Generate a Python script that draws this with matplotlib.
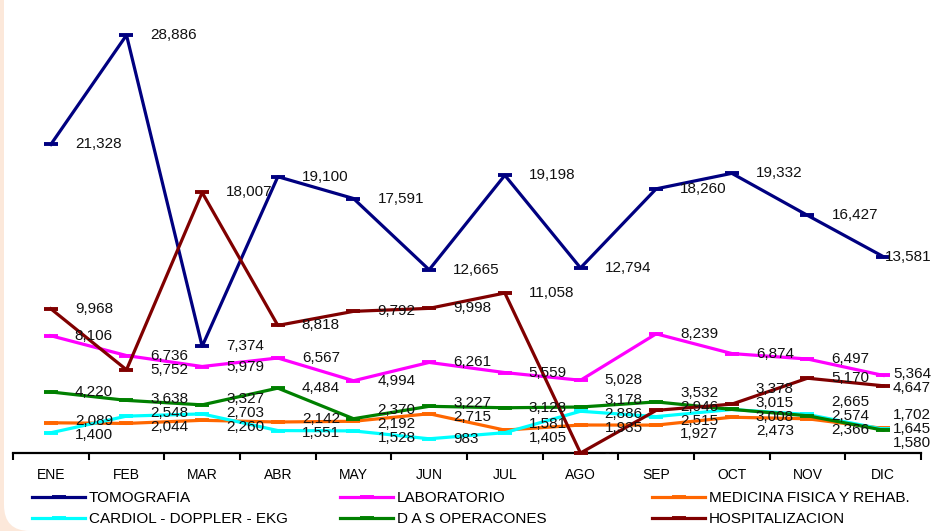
import matplotlib
matplotlib.use('Agg')
import matplotlib.pyplot as plt
import numpy as np
from matplotlib.patches import FancyBboxPatch
from matplotlib.transforms import IdentityTransform

plt.rcParams['font.family'] = ['Liberation Sans', 'DejaVu Sans']

# data
months = ['ENE', 'FEB', 'MAR', 'ABR', 'MAY', 'JUN', 'JUL', 'AGO', 'SEP', 'OCT', 'NOV', 'DIC']
tomografia = [21328, 28886, 7374, 19100, 17591, 12665, 19198, 12794, 18260, 19332, 16427, 13581]
laboratorio = [8106, 6736, 5979, 6567, 4994, 6261, 5559, 5028, 8239, 6874, 6497, 5364]
medicina = [2089, 2044, 2260, 2142, 2192, 2715, 1581, 1935, 1927, 2473, 2366, 1702]
cardiol = [1400, 2548, 2703, 1551, 1528, 983, 1405, 2886, 2515, 3008, 2665, 1645]
das_op = [4220, 3638, 3327, 4484, 2370, 3227, 3128, 3178, 3532, 3015, 2574, 1580]
hospital = [9968, 5752, 18007, 8818, 9792, 9998, 11058, 0, 2946, 3378, 5170, 4647]

series_names = ['TOMOGRAFIA', 'LABORATORIO', 'MEDICINA FISICA Y REHAB.',
                'CARDIOL - DOPPLER - EKG', 'D A S OPERACONES', 'HOSPITALIZACION']
series_vals = [tomografia, laboratorio, medicina, cardiol, das_op, hospital]
colors = ['#000080', '#FF00FF', '#FF6600', '#00FFFF', '#008000', '#800000']

W, H = 934, 531
fig = plt.figure(figsize=(W / 100, H / 100), dpi=100)
fig.patch.set_facecolor('#FCE8DA')

# white rounded panel over the peach background
panel = FancyBboxPatch((4, 0), 1100, 700, boxstyle='round,pad=0,rounding_size=26',
                       facecolor='white', edgecolor='none', transform=IdentityTransform(), zorder=-5)
fig.add_artist(panel)

ax = fig.add_axes([13 / W, 78 / H, 908 / W, 434 / H])
ax.set_facecolor('none')
ax.set_xlim(-0.5, 11.5)
ax.set_ylim(0, 30000)

x = np.arange(len(months))
handles = []
for i, (name, vals, c) in enumerate(zip(series_names, series_vals, colors)):
    ln, = ax.plot(x, vals, color=c, lw=2.3, marker='_', ms=10, mew=2.8,
                  clip_on=False, zorder=3 + i, label=name)
    handles.append(ln)

# axes styling
for s in ['left', 'right', 'top']:
    ax.spines[s].set_visible(False)
ax.spines['bottom'].set_linewidth(1.6)
ax.set_yticks([])
ax.set_xticks(x)
ax.set_xticklabels(months, fontsize=10)
ax.set_xticks(np.arange(-0.5, 12, 1), minor=True)
ax.tick_params(axis='x', which='major', length=0, pad=11)
ax.tick_params(axis='x', which='minor', length=5, width=1.5, direction='out')

# data labels to the right of each point, pushed apart when they collide
gap = 14
for j in range(len(months)):
    ys = []
    for k, vals in enumerate(series_vals):
        ys.append([ax.transData.transform((j, vals[j]))[1], k])
    ys.sort(key=lambda t: -t[0])
    pos = [t[0] for t in ys]
    for _ in range(80):
        moved = False
        for a in range(len(pos) - 1):
            d = pos[a] - pos[a + 1]
            if d < gap - 0.01:
                push = (gap - d) / 2
                pos[a] += push
                pos[a + 1] -= push
                moved = True
        if not moved:
            break
    px = ax.transData.transform((j, 0))[0]
    for (y0, k), yn in zip(ys, pos):
        v = series_vals[k][j]
        txt = '-' if v == 0 else f'{v:,}'
        if j == len(months) - 1:
            # last month: keep labels inside the picture
            dx, ha = (W - 3) - px, 'right'
        else:
            dx, ha = 24, 'left'
        ax.annotate(txt, xy=(j, v), xytext=(dx, yn - y0), textcoords='offset pixels',
                    ha=ha, va='center', fontsize=11, color='#111111',
                    annotation_clip=False, zorder=20)

# legend in three columns
cols = [(0, 3), (1, 4), (2, 5)]
xs = [32, 340, 652]
for (a, b), xl in zip(cols, xs):
    fig.legend([handles[a], handles[b]], [series_names[a], series_names[b]],
               loc='upper left', bbox_to_anchor=(xl / W, (H - 491) / H),
               frameon=False, fontsize=11, handlelength=3.5, handletextpad=0.2,
               labelspacing=0.45, borderpad=0, borderaxespad=0, numpoints=1)

fig.savefig('out.png', dpi=100, facecolor=fig.get_facecolor())
